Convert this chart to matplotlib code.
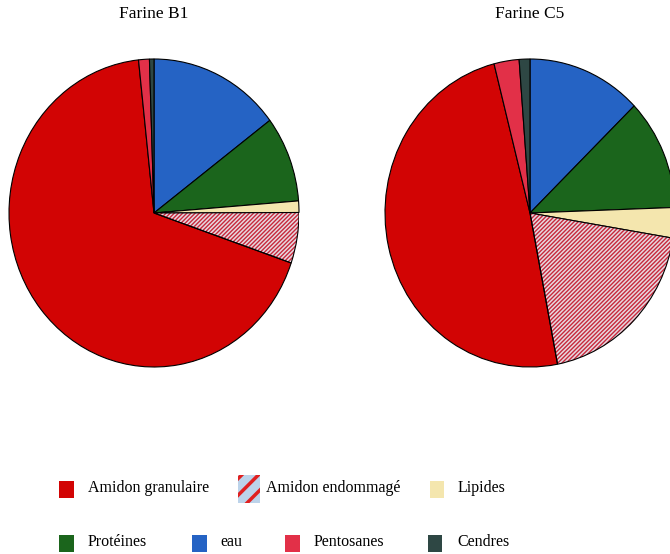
import matplotlib
matplotlib.use("Agg")
import matplotlib.pyplot as plt
from matplotlib.patches import Wedge, Rectangle

plt.rcParams['font.family'] = ['Liberation Serif', 'DejaVu Serif']

# Components, in pie order (clockwise from 12 o'clock)
components = ["eau", "Protéines", "Lipides", "Amidon endommagé",
              "Amidon granulaire", "Pentosanes", "Cendres"]
farine_b1 = [14.7, 9.0, 1.2, 5.3, 67.9, 1.2, 0.5]
farine_c5 = [12.8, 11.7, 3.2, 19.4, 49.2, 2.8, 1.2]
titles = ["Farine B1", "Farine C5"]

legend_order = ["Amidon granulaire", "Amidon endommagé", "Lipides",
                "Protéines", "eau", "Pentosanes", "Cendres"]

colors = {
    "eau": "#2563c4",
    "Protéines": "#1b651c",
    "Lipides": "#f4e6ae",
    "Amidon endommagé": "#e6d8e0",
    "Amidon granulaire": "#d20404",
    "Pentosanes": "#e23048",
    "Cendres": "#2e4744",
}
hatch_red = "#c8283c"

fig = plt.figure(figsize=(6.7, 5.54), dpi=100)
W, H = 670, 554

def px_axes(cx, cy, rx, ry):
    return fig.add_axes([(cx - rx) / W, (H - cy - ry) / H, 2 * rx / W, 2 * ry / H])

centers = [(154, 213), (530, 213)]
for (cx, cy), vals, title in zip(centers, [farine_b1, farine_c5], titles):
    ax = px_axes(cx, cy, 145, 154)
    wedges, _ = ax.pie(vals, colors=[colors[c] for c in components],
                       startangle=90, counterclock=False,
                       wedgeprops=dict(edgecolor="black", linewidth=0.8))
    ax.set_aspect('auto')
    ax.set_xlim(-1, 1)
    ax.set_ylim(-1, 1)
    for w, comp in zip(wedges, components):
        if comp == "Amidon endommagé":
            w.set_edgecolor(hatch_red)
            w.set_linewidth(0)
            w.set_hatch("////////")
            ax.add_patch(Wedge(w.center, w.r, w.theta1, w.theta2, fill=False,
                               edgecolor="black", linewidth=0.8))
    fig.text(cx / W, 1 - 14 / H, title, ha="center", va="center", fontsize=12.5)

# Manual legend layout
legend_pos = {
    "Amidon granulaire": (66, 489, 88),
    "Amidon endommagé": (249, 489, 266),
    "Lipides": (437, 489, 458),
    "Protéines": (66, 543, 88),
    "eau": (199, 543, 220),
    "Pentosanes": (292, 543, 314),
    "Cendres": (435, 543, 457),
}
for name in legend_order:
    mx, my, tx = legend_pos[name]
    if name == "Amidon endommagé":
        sw, sh = 22, 28
        with plt.rc_context({'hatch.linewidth': 2.5}):
            r = Rectangle(((mx - sw / 2) / W, 1 - (my + sh / 2) / H), sw / W, sh / H,
                          transform=fig.transFigure, facecolor="#bcd3ea",
                          edgecolor="#e02020", linewidth=0, hatch="//")
            fig.add_artist(r)
    else:
        sw, sh = 15, 17
        r = Rectangle(((mx - sw / 2) / W, 1 - (my + sh / 2) / H), sw / W, sh / H,
                      transform=fig.transFigure, facecolor=colors[name],
                      edgecolor="none")
        fig.add_artist(r)
    fig.text(tx / W, 1 - (my - 1) / H, name, ha="left", va="center", fontsize=11.5)

fig.savefig("out.png", dpi=100)
